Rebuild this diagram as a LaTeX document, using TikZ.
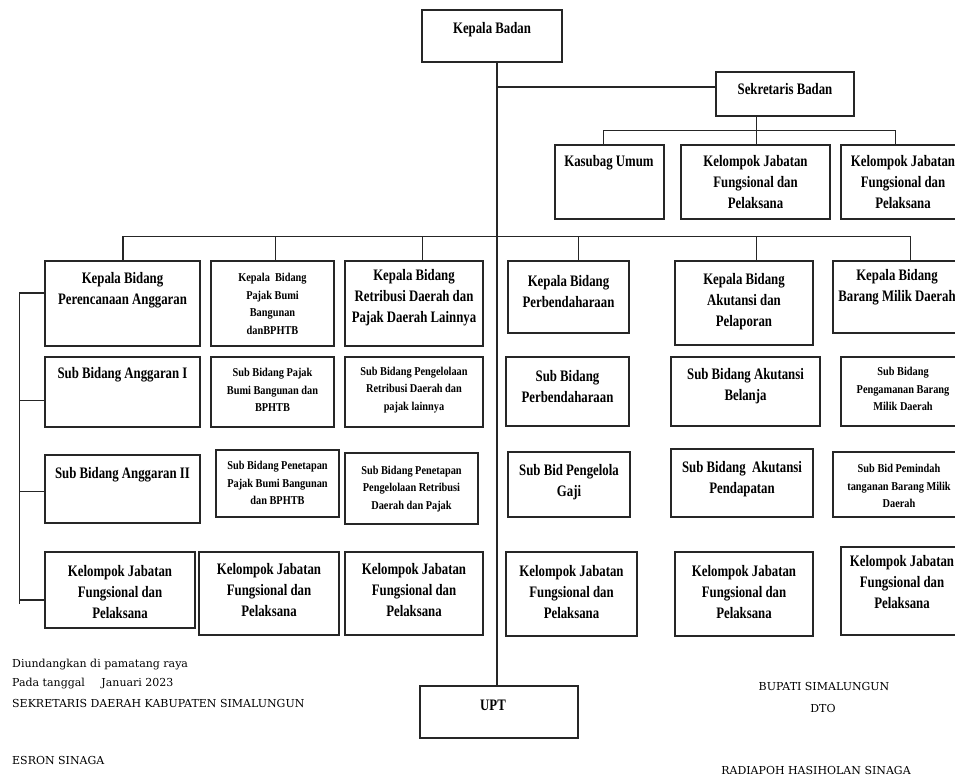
\documentclass[tikz,border=0pt]{standalone}
\usepackage{fontspec}
\setmainfont{Liberation Serif}
\newfontfamily\bfont[FakeStretch=0.8]{Liberation Serif}
\newfontfamily\sfont[FakeStretch=0.86]{Liberation Serif}
\newfontfamily\nfont{DejaVu Serif}
\tikzset{
  orgbox/.style={draw=black!85, line width=1.7pt, rectangle, inner sep=0pt},
  link/.style={draw=black!85, line width=1.5pt},
  bigtxt/.style={font=\bfont\bfseries\fontsize{16}{21}\selectfont, align=center, inner sep=0pt},
  smalltxt/.style={font=\sfont\bfseries\fontsize{12}{17.5}\selectfont, align=center, inner sep=0pt},
  note/.style={font=\nfont\fontsize{11}{13}\selectfont, inner sep=0pt},
}
% name, x1, y1, x2, y2, text style, text x, text y, text
\newcommand\obox[9]{%
  \node[orgbox, minimum width={(#4-#2)*1pt}, minimum height={(#5-#3)*1pt}] (#1) at ({(#2+#4)/2},{(#3+#5)/2}) {};
  \node[#6] (#1-t) at (#7,#8) {#9};
}
\begin{document}
\begin{tikzpicture}[x=1pt,y=-1pt]
\useasboundingbox (0,0) rectangle (955,780);

% top
\obox{kb}{422}{10}{562}{62}{bigtxt}{492}{30}{Kepala Badan}
\obox{sb}{716}{72}{854}{116}{bigtxt}{785}{89}{Sekretaris Badan}
\obox{ku}{555}{145}{664}{219}{bigtxt}{609}{163}{Kasubag Umum}
\obox{kja}{681}{145}{830}{219}{bigtxt}{755.5}{182.5}{Kelompok Jabatan\\Fungsional dan\\Pelaksana}
\obox{kjb}{841}{145}{966}{219}{bigtxt}{903}{182.5}{Kelompok Jabatan\\Fungsional dan\\Pelaksana}

% row 1
\obox{kp1}{45}{261}{200}{346}{bigtxt}{122.5}{290.5}{Kepala Bidang\\Perencanaan Anggaran}
\obox{kp2}{211}{261}{334}{346}{smalltxt}{272.5}{304}{Kepala\ \ Bidang\\Pajak Bumi\\Bangunan\\danBPHTB}
\obox{kp3}{345}{261}{483}{346}{bigtxt}{414}{298}{Kepala Bidang\\Retribusi Daerah dan\\Pajak Daerah Lainnya}
\obox{kp4}{508}{261}{629}{333}{bigtxt}{568.5}{291.7}{Kepala Bidang\\Perbendaharaan}
\obox{kp5}{675}{261}{813}{345}{bigtxt}{744}{302}{Kepala Bidang\\Akutansi dan\\Pelaporan}
\obox{kp6}{833}{261}{961}{333}{bigtxt}{897}{287}{Kepala Bidang\\Barang Milik Daerah}

% row 2
\obox{s1}{45}{357}{200}{427}{bigtxt}{122.5}{375}{Sub Bidang Anggaran I}
\obox{s2}{211}{357}{334}{427}{smalltxt}{272.5}{390}{Sub Bidang Pajak\\Bumi Bangunan dan\\BPHTB}
\obox{s3}{345}{357}{483}{427}{smalltxt}{414}{390}{Sub Bidang Pengelolaan\\Retribusi Daerah dan\\pajak lainnya}
\obox{s4}{506}{357}{629}{426}{bigtxt}{567.5}{386.7}{Sub Bidang\\Perbendaharaan}
\obox{s5}{671}{357}{820}{426}{bigtxt}{745.5}{386}{Sub Bidang Akutansi\\Belanja}
\obox{s6}{841}{357}{965}{426}{smalltxt}{903}{389}{Sub Bidang\\Pengamanan Barang\\Milik Daerah}

% row 3
\obox{t1}{45}{455}{200}{523}{bigtxt}{122.5}{475}{Sub Bidang Anggaran II}
\obox{t2}{216}{450}{339}{517}{smalltxt}{277.5}{483}{Sub Bidang Penetapan\\Pajak Bumi Bangunan\\dan BPHTB}
\obox{t3}{345}{453}{478}{524}{smalltxt}{411.5}{489}{Sub Bidang Penetapan\\Pengelolaan Retribusi\\Daerah dan Pajak}
\obox{t4}{508}{452}{630}{517}{bigtxt}{569}{481.7}{Sub Bid Pengelola\\Gaji}
\obox{t5}{671}{449}{813}{517}{bigtxt}{742}{479}{Sub Bidang\ \ Akutansi\\Pendapatan}
\obox{t6}{833}{452}{965}{517}{smalltxt}{899}{486}{Sub Bid Pemindah\\tanganan Barang Milik\\Daerah}

% row 4
\obox{k1}{45}{552}{195}{628}{bigtxt}{120}{592.5}{Kelompok Jabatan\\Fungsional dan\\Pelaksana}
\obox{k2}{199}{552}{339}{635}{bigtxt}{269}{590}{Kelompok Jabatan\\Fungsional dan\\Pelaksana}
\obox{k3}{345}{552}{483}{635}{bigtxt}{414}{590}{Kelompok Jabatan\\Fungsional dan\\Pelaksana}
\obox{k4}{506}{552}{637}{636}{bigtxt}{571.5}{591.7}{Kelompok Jabatan\\Fungsional dan\\Pelaksana}
\obox{k5}{675}{552}{813}{636}{bigtxt}{744}{591.7}{Kelompok Jabatan\\Fungsional dan\\Pelaksana}
\obox{k6}{841}{547}{966}{635}{bigtxt}{902}{582.5}{Kelompok Jabatan\\Fungsional dan\\Pelaksana}

% UPT
\obox{upt}{420}{686}{578}{738}{bigtxt}{493}{705}{UPT}

% connectors
\coordinate (spine) at (497,0);
\draw[link] (spine |- kb.south) -- (spine |- upt.north);
\coordinate (sjoin) at (497,87);
\draw[link] (sjoin) -- (sjoin -| sb.west);
\coordinate (sdrop) at (756.7,130.7);
\coordinate (sl) at (603.3,130.7);
\coordinate (sr) at (895.7,130.7);
\draw[link] (sdrop |- sb.south) -- (sdrop) -- (sdrop |- kja.north);
\draw[link] (sl |- ku.north) -- (sl) -- (sr) -- (sr |- kjb.north);

\coordinate (r1) at (123,236.7);
\coordinate (r2) at (275.7,236.7);
\coordinate (r3) at (422.7,236.7);
\coordinate (r4) at (578.3,236.7);
\coordinate (r5) at (756.7,236.7);
\coordinate (r6) at (910.7,236.7);
\draw[link] (r1 |- kp1.north) -- (r1) -- (r6) -- (r6 |- kp6.north);
\draw[link] (r2) -- (r2 |- kp2.north);
\draw[link] (r3) -- (r3 |- kp3.north);
\draw[link] (r4) -- (r4 |- kp4.north);
\draw[link] (r5) -- (r5 |- kp5.north);

\coordinate (b1) at (19.3,293);
\coordinate (b2) at (19.3,400.7);
\coordinate (b3) at (19.3,491.7);
\coordinate (b4) at (19.3,600);
\draw[link] (b1) -- (19.3,604);
\draw[link] (b1) -- (b1 -| kp1.west);
\draw[link] (b2) -- (b2 -| s1.west);
\draw[link] (b3) -- (b3 -| t1.west);
\draw[link] (b4) -- (b4 -| k1.west);

% notes
\node[note, anchor=west] (n1) at (12,665) {Diundangkan di pamatang raya};
\node[note, anchor=west] (n2) at (12,683.3) {Pada tanggal\hspace{1.5em}Januari 2023};
\node[note, anchor=west] (n3) at (12,703.3) {SEKRETARIS DAERAH KABUPATEN SIMALUNGUN};
\node[note, anchor=west] (n4) at (12,760) {ESRON SINAGA};
\node[note] (n5) at (824,686) {BUPATI SIMALUNGUN};
\node[note] (n6) at (823,708.3) {DTO};
\node[note] (n7) at (816,770) {RADIAPOH HASIHOLAN SINAGA};
\end{tikzpicture}
\end{document}
